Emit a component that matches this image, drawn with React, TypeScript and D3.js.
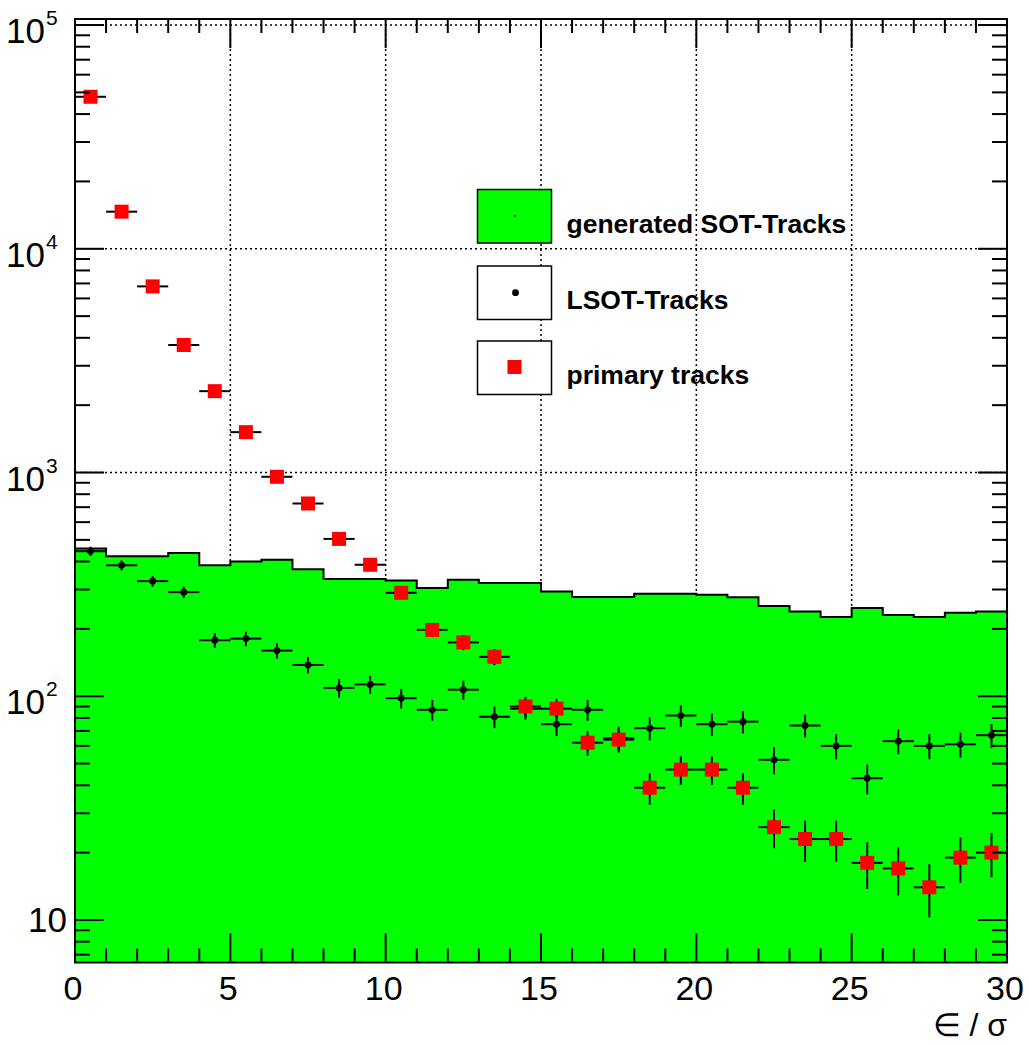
import * as d3 from "d3";

// bin centres of the 30 unit-wide bins (eps / sigma)
const binCenters = [0.5, 1.5, 2.5, 3.5, 4.5, 5.5, 6.5, 7.5, 8.5, 9.5, 10.5, 11.5, 12.5, 13.5, 14.5,
  15.5, 16.5, 17.5, 18.5, 19.5, 20.5, 21.5, 22.5, 23.5, 24.5, 25.5, 26.5, 27.5, 28.5, 29.5];

const generated = [457, 422, 422, 437, 385, 400, 408, 370, 334, 334, 329, 305, 332, 321, 321,
  294, 278, 278, 287, 287, 284, 277, 253, 239, 226, 248, 231, 226, 236, 239];

const lsot = [445, 385, 327, 292, 178, 181, 160, 138, 109, 113, 98, 87, 107, 81, 88,
  75, 87, 65, 72, 82, 75, 77, 52, 74, 60, 43, 63, 60, 61, 67];

const primary = [47800, 14650, 6790, 3715, 2310, 1515, 957, 727, 505, 387, 290, 198, 174, 150, 90,
  88, 62, 64, 39, 47, 47, 39, 26, 23, 23, 18, 17, 14, 19, 20];

const xTicks = [0, 5, 10, 15, 20, 25, 30];
const yDecades = [1, 2, 3, 4, 5];
const legendLabels = ["generated SOT-Tracks", "LSOT-Tracks", "primary tracks"];

const W = 1028;
const H = 1045;
const left = 75, right = 1007, top = 19, bottom = 962.5;

const x = d3.scaleLinear().domain([0, 30]).range([left, right]);
const y = d3.scaleLog().domain([Math.pow(10, 0.81), Math.pow(10, 5.027)]).range([bottom, top]);

const font = "'Liberation Sans', Arial, Helvetica, sans-serif";

export default function App() {
  const halfBin = 0.5;

  // step outline for the generated histogram
  const stepPts: [number, number][] = [];
  binCenters.forEach((c, i) => {
    stepPts.push([x(c - halfBin), y(generated[i])]);
    stepPts.push([x(c + halfBin), y(generated[i])]);
  });
  const line = d3.line();
  const area = d3.area().x(d => d[0]).y0(bottom).y1(d => d[1]);

  const minorX = d3.range(0, 31);
  const minorY: number[] = [];
  for (let e = 0; e <= 5; e++) {
    for (let m = 2; m <= 9; m++) {
      const v = m * Math.pow(10, e);
      const [lo, hi] = y.domain();
      if (v >= lo && v <= hi) minorY.push(v);
    }
  }

  const gridStyle = { stroke: "#000", strokeWidth: 1.5, strokeDasharray: "2,3" };

  const errBars = (vals: number[], key: string) =>
    binCenters.map((c, i) => {
      const v = vals[i];
      const e = Math.sqrt(v);
      return (
        <g key={key + i} stroke="#000" strokeWidth={2}>
          <line x1={x(c - halfBin)} x2={x(c + halfBin)} y1={y(v)} y2={y(v)} />
          <line x1={x(c)} x2={x(c)} y1={y(v + e)} y2={y(Math.max(v - e, 0.001))} />
        </g>
      );
    });

  const legendBoxes = [
    { y0: 189.5, fill: "#00ff00" },
    { y0: 266, fill: "#fff" },
    { y0: 341, fill: "#fff" },
  ];

  return (
    <svg width={W} height={H} style={{ position: "absolute", left: 0, top: 0 }} fontFamily={font}>
      <rect x={0} y={0} width={W} height={H} fill="#fff" />

      {/* grid */}
      {xTicks.slice(1, -1).map(t => (
        <line key={"gx" + t} x1={x(t)} x2={x(t)} y1={top} y2={bottom} {...gridStyle} />
      ))}
      {yDecades.map(d => (
        <line key={"gy" + d} x1={left} x2={right} y1={y(Math.pow(10, d))} y2={y(Math.pow(10, d))} {...gridStyle} />
      ))}

      {/* generated histogram */}
      <path d={area(stepPts) as string} fill="#00ff00" />
      <path d={line(stepPts) as string} fill="none" stroke="#000" strokeWidth={2} />

      {/* LSOT tracks */}
      {errBars(lsot, "l")}
      {binCenters.map((c, i) => (
        <circle key={"lm" + i} cx={x(c)} cy={y(lsot[i])} r={3.4} fill="#000" />
      ))}

      {/* primary tracks */}
      {errBars(primary, "p")}
      {binCenters.map((c, i) => (
        <rect key={"pm" + i} x={x(c) - 7} y={y(primary[i]) - 7} width={14} height={14} fill="#ff0000" />
      ))}

      {/* ticks */}
      <g stroke="#000" strokeWidth={2}>
        {minorX.map(t => {
          const len = t % 5 === 0 ? 29 : 14;
          return (
            <g key={"tx" + t}>
              <line x1={x(t)} x2={x(t)} y1={bottom} y2={bottom - len} />
              <line x1={x(t)} x2={x(t)} y1={top} y2={top + len} />
            </g>
          );
        })}
        {yDecades.map(d => (
          <g key={"ty" + d}>
            <line x1={left} x2={left + 29} y1={y(Math.pow(10, d))} y2={y(Math.pow(10, d))} />
            <line x1={right} x2={right - 29} y1={y(Math.pow(10, d))} y2={y(Math.pow(10, d))} />
          </g>
        ))}
        {minorY.map(v => (
          <g key={"my" + v}>
            <line x1={left} x2={left + 15} y1={y(v)} y2={y(v)} />
            <line x1={right} x2={right - 15} y1={y(v)} y2={y(v)} />
          </g>
        ))}
      </g>

      {/* frame */}
      <rect x={left} y={top} width={right - left} height={bottom - top} fill="none" stroke="#000" strokeWidth={2} />

      {/* x tick labels */}
      {xTicks.map(t => (
        <text key={"lx" + t} x={x(t) - 2} y={1000} textAnchor="middle" fontSize={34} fill="#000">
          {t}
        </text>
      ))}

      {/* y tick labels */}
      {yDecades.map(d => {
        const yy = y(Math.pow(10, d));
        if (d === 1) {
          return (
            <text key={"ly" + d} x={67} y={yy + 12} textAnchor="end" fontSize={35} fill="#000">10</text>
          );
        }
        return (
          <g key={"ly" + d}>
            <text x={45} y={yy + 18} textAnchor="end" fontSize={35} fill="#000">10</text>
            <text x={46} y={yy} textAnchor="start" fontSize={21} fill="#000">{d}</text>
          </g>
        );
      })}

      {/* axis title */}
      <text x={1007} y={1036} textAnchor="end" fontSize={32} fill="#000">∈ / σ</text>

      {/* legend */}
      {legendBoxes.map((b, i) => (
        <g key={"lg" + i}>
          <rect x={477.5} y={b.y0} width={74} height={53.5} fill={b.fill} stroke="#000" strokeWidth={1.5} />
          <text x={566.5} y={b.y0 + 43} fontSize={26.5} fontWeight="bold" fill="#000">{legendLabels[i]}</text>
        </g>
      ))}
      <circle cx={515} cy={216} r={0.9} fill="#000" />
      <circle cx={515.5} cy={292.7} r={3.4} fill="#000" />
      <rect x={507.5} y={360} width={14} height={14} fill="#ff0000" />
    </svg>
  );
}
